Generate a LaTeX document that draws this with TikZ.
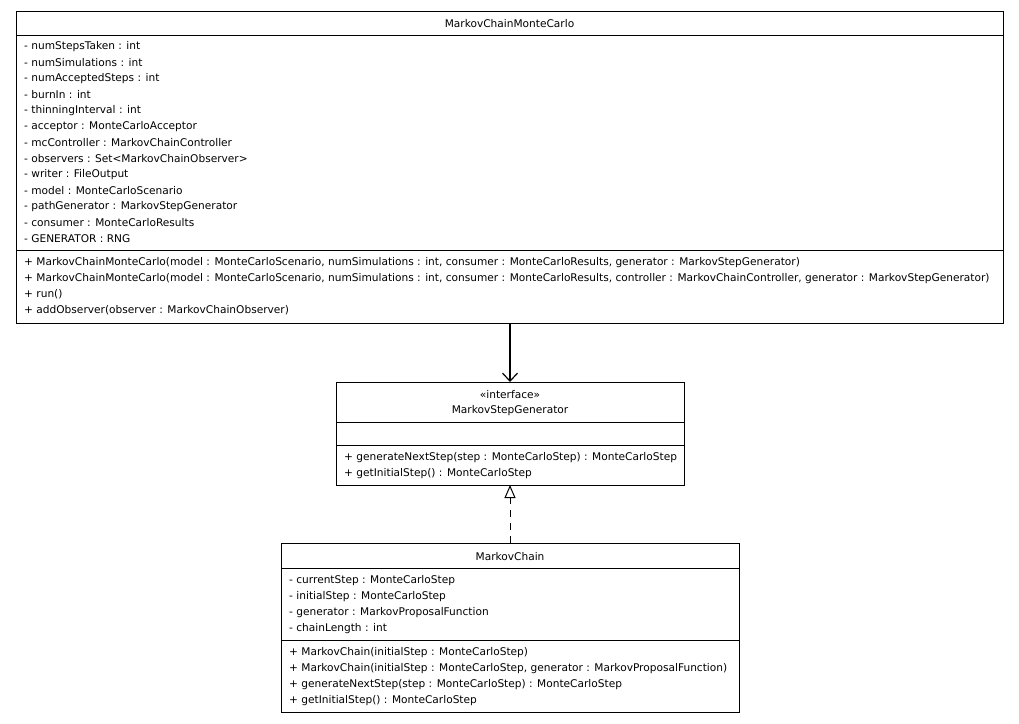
\documentclass[tikz,border=0pt]{standalone}
\usepackage{fontspec}
\setmainfont{DejaVu Sans}
\usetikzlibrary{arrows.meta}
\tikzset{
  umlbox/.style={draw=black, line width=1pt, anchor=north west, inner sep=0pt, fill=white},
  txt/.style={anchor=west, inner sep=0pt, yshift=-1.5pt, font=\fontsize{10.6}{12}\selectfont},
  ttl/.style={anchor=center, inner sep=0pt, yshift=-1.5pt, font=\fontsize{10.6}{12}\selectfont},
  sep/.style={draw=black, line width=1pt},
  assoc/.style={draw=black, line width=1.2pt, -{Straight Barb[length=8pt,width=15pt,line width=1.2pt]}},
  realize/.style={draw=black, line width=1pt, dash pattern=on 7pt off 6pt, -{Triangle[open,length=13pt,width=11pt,line width=1pt]}}
}
\begin{document}
\begin{tikzpicture}[x=1pt,y=-1pt]
\useasboundingbox (0,0) rectangle (1019,723);
% MarkovChainMonteCarlo
\node[umlbox, minimum width=987pt, minimum height=312pt] (mcmc) at (16,11) {};
\node[ttl] (mcmcT) at (509.5,22) {MarkovChainMonteCarlo};
\draw[sep] (16,35) -- (1003,35);
\draw[sep] (16,250) -- (1003,250);
\foreach \t [count=\i from 0] in {
 - numStepsTaken : int,
 - numSimulations : int,
 - numAcceptedSteps : int,
 - burnIn : int,
 - thinningInterval : int,
 - acceptor : MonteCarloAcceptor,
 - mcController : MarkovChainController,
 - observers : Set<MarkovChainObserver>,
 - writer : FileOutput,
 - model : MonteCarloScenario,
 - pathGenerator : MarkovStepGenerator,
 - consumer : MonteCarloResults,
 - GENERATOR : RNG}
 \node[txt] (ma\i) at (24,{45+16*\i}) {\t};
\node[txt] (mm0) at (24,261) {+ MarkovChainMonteCarlo(model : MonteCarloScenario, numSimulations : int, consumer : MonteCarloResults, generator : MarkovStepGenerator)};
\node[txt] (mm1) at (24,277) {+ MarkovChainMonteCarlo(model : MonteCarloScenario, numSimulations : int, consumer : MonteCarloResults, controller : MarkovChainController, generator : MarkovStepGenerator)};
\node[txt] (mm2) at (24,293) {+ run()};
\node[txt] (mm3) at (24,309) {+ addObserver(observer : MarkovChainObserver)};
% MarkovStepGenerator
\node[umlbox, minimum width=348pt, minimum height=103pt] (msg) at (336,382) {};
\node[ttl] (msgS) at (510,393) {«interface»};
\node[ttl] (msgT) at (510,409) {MarkovStepGenerator};
\draw[sep] (336,422) -- (684,422);
\draw[sep] (336,445) -- (684,445);
\node[txt] (sm0) at (344,456) {+ generateNextStep(step : MonteCarloStep) : MonteCarloStep};
\node[txt] (sm1) at (344,472) {+ getInitialStep() : MonteCarloStep};
% MarkovChain
\node[umlbox, minimum width=458pt, minimum height=169pt] (mc) at (281,543) {};
\node[ttl] (mcT) at (510,555) {MarkovChain};
\draw[sep] (281,568) -- (739,568);
\draw[sep] (281,640) -- (739,640);
\foreach \t [count=\i from 0] in {
 - currentStep : MonteCarloStep,
 - initialStep : MonteCarloStep,
 - generator : MarkovProposalFunction,
 - chainLength : int}
 \node[txt] (ca\i) at (289,{579+16*\i}) {\t};
\node[txt] (cm0) at (289,651) {+ MarkovChain(initialStep : MonteCarloStep)};
\node[txt] (cm1) at (289,667) {+ MarkovChain(initialStep : MonteCarloStep, generator : MarkovProposalFunction)};
\node[txt] (cm2) at (289,683) {+ generateNextStep(step : MonteCarloStep) : MonteCarloStep};
\node[txt] (cm3) at (289,699) {+ getInitialStep() : MonteCarloStep};
% connectors
\coordinate (a1) at (510,323);
\coordinate (a2) at (510,382);
\draw[assoc] (a1) -- (a2);
\coordinate (r1) at (510,543);
\coordinate (r2) at (510,485);
\draw[realize] (r1) -- (r2);
\end{tikzpicture}
\end{document}
